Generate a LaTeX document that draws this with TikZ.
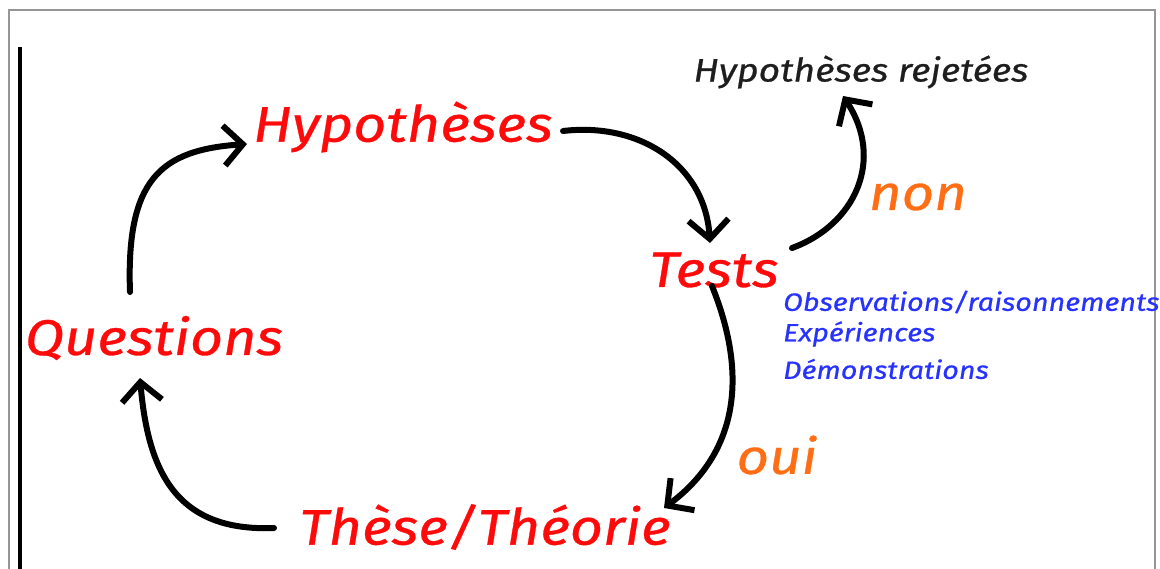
\documentclass[tikz,border=0pt]{standalone}
\usepackage{fontspec}
\setmainfont{Fira Sans}
\newfontfamily\hand[FakeStretch=1.15,FakeBold=0.6]{Fira Sans}
\usetikzlibrary{arrows.meta}
\definecolor{cred}{RGB}{255,10,10}
\definecolor{corange}{RGB}{255,110,20}
\definecolor{cblue}{RGB}{40,50,255}
\definecolor{cdark}{RGB}{30,30,30}
\definecolor{cframe}{RGB}{150,150,150}
\begin{document}
\begin{tikzpicture}[x=1pt,y=-1pt,
  big/.style={text=cred,font=\hand\itshape\fontsize{50}{54}\selectfont,inner sep=0pt},
  ans/.style={text=corange,font=\hand\itshape\fontsize{49}{54}\selectfont,inner sep=0pt},
  note/.style={text=cblue,font=\hand\itshape\fontsize{25}{28}\selectfont,inner sep=0pt,anchor=west},
  arr/.style={line width=6pt,line cap=round,-{Straight Barb[length=19pt,width=40pt,line width=6pt]}}]
\useasboundingbox (0,0) rectangle (1160,569);
\fill[white] (0,0) rectangle (1160,569);
\draw[cframe,line width=2.5pt] (9,600) -- (9,10) -- (1155,10) -- (1155,600);
\draw[black,line width=4.5pt] (20,47) -- (20,575);
\node[big] (hyp) at (403,127) {Hypothèses};
\node[big] (tests) at (714,270) {Tests};
\node[big] (quest) at (154,338) {Questions};
\node[big] (these) at (485,527) {Thèse/Théorie};
\node[text=cdark,font=\hand\itshape\fontsize{32.5}{36}\selectfont,inner sep=0pt] (rej) at (861,72) {Hypothèses rejetées};
\node[ans] (non) at (918,197) {non};
\node[ans] (oui) at (777,455) {oui};
\node[note] (obs) at (783,302) {Observations/raisonnements};
\node[note] (exp) at (783,334) {Expériences};
\node[note] (dem) at (783,369) {Démonstrations};
\coordinate (q1) at (130,292);
\coordinate (h0) at (247,144);
\coordinate (h1) at (563,131);
\coordinate (t0) at (710,243);
\coordinate (t1) at (792,248);
\coordinate (r0) at (843,96);
\coordinate (t2) at (712,286);
\coordinate (s0) at (664,508);
\coordinate (s1) at (274,528);
\coordinate (q0) at (140,378);
\draw[arr] (q1) .. controls (126,180) and (160,150) .. (h0);
\draw[arr] (h1) .. controls (640,122) and (705,165) .. (t0);
\draw[arr] (t1) .. controls (855,225) and (885,160) .. (r0);
\draw[arr] (t2) .. controls (750,380) and (735,455) .. (s0);
\draw[arr] (s1) .. controls (175,532) and (148,470) .. (q0);
\end{tikzpicture}
\end{document}
